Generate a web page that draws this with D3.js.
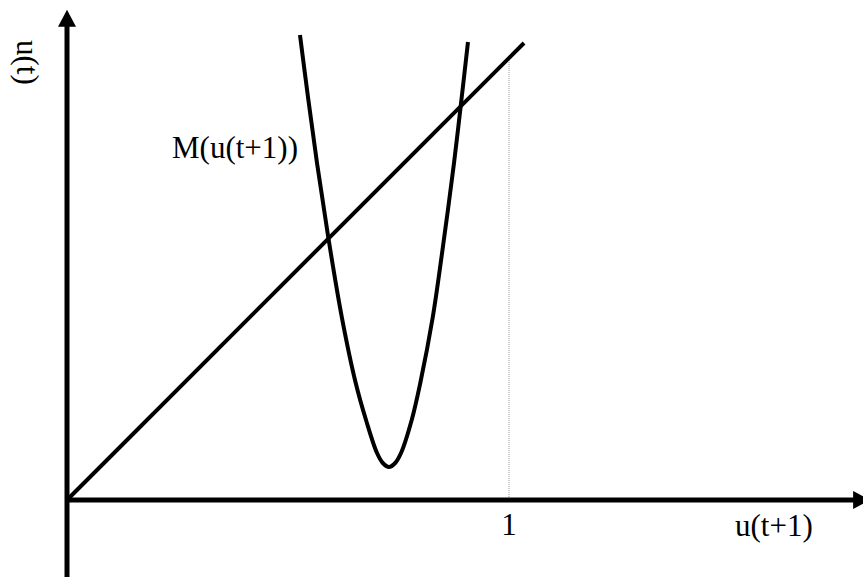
<!DOCTYPE html>
<html>
<head>
<meta charset="utf-8">
<script src="https://cdn.jsdelivr.net/npm/d3@7"></script>
<style>
  html, body { margin: 0; padding: 0; background: #fff; }
  svg { display: block; }
  text { font-family: "Liberation Serif", "Times New Roman", serif; fill: #000; }
</style>
</head>
<body>
<svg id="chart" width="863" height="577"></svg>
<script>
// Map curve M(u(t+1)): sampled points, u(t+1) and u(t) values
const curveU1 = [0.5271, 0.5452, 0.5656, 0.5910, 0.6217, 0.6532, 0.6765, 0.7014, 0.7145, 0.7285,
                 0.7425, 0.7557, 0.7799, 0.7993, 0.8276, 0.8495, 0.8756, 0.8905, 0.9072];
const curveU0 = [1.0520, 0.9118, 0.7624, 0.5950, 0.4140, 0.2647, 0.1810, 0.1063, 0.0837, 0.0747,
                 0.0837, 0.1063, 0.1810, 0.2647, 0.4140, 0.5656, 0.7624, 0.8891, 1.0362];

// Identity line u(t) = u(t+1)
const diagU1 = [0, 1.034];
const diagU0 = [0, 1.034];

// Axis extents (data units)
const xAxisRange = [0, 1.817];
const yAxisRange = [-0.174, 1.109];

// Tick at u(t+1) = 1
const tickValues = [1];
const tickLabels = ["1"];

const xLabel = "u(t+1)";
const yLabel = "u(t)";
const curveLabel = "M(u(t+1))";

const svg = d3.select("#chart");

const x = d3.scaleLinear().domain([0, 1]).range([67, 509]);
const y = d3.scaleLinear().domain([0, 1]).range([500, 58]);

const arrowLen = 17, arrowHalf = 9;
const fontSize = 31;

// Vertical reference line at u(t+1) = 1
svg.selectAll("line.ref").data(tickValues).join("line")
  .attr("class", "ref")
  .attr("x1", d => x(d)).attr("x2", d => x(d))
  .attr("y1", d => y(d)).attr("y2", y(0))
  .attr("stroke", "#9a9a9a").attr("stroke-width", 1)
  .attr("stroke-dasharray", "1,1");

// Axes
const xTip = x(xAxisRange[1]);
svg.append("line")
  .attr("x1", x(0)).attr("x2", xTip - arrowLen + 1)
  .attr("y1", y(0)).attr("y2", y(0))
  .attr("stroke", "#000").attr("stroke-width", 5);
svg.append("path")
  .attr("d", `M${xTip},${y(0)} L${xTip - arrowLen},${y(0) - arrowHalf} L${xTip - arrowLen},${y(0) + arrowHalf} Z`)
  .attr("fill", "#000");

const yTip = y(yAxisRange[1]);
svg.append("line")
  .attr("x1", x(0)).attr("x2", x(0))
  .attr("y1", y(yAxisRange[0])).attr("y2", yTip + arrowLen - 1)
  .attr("stroke", "#000").attr("stroke-width", 5);
svg.append("path")
  .attr("d", `M${x(0)},${yTip} L${x(0) - arrowHalf},${yTip + arrowLen} L${x(0) + arrowHalf},${yTip + arrowLen} Z`)
  .attr("fill", "#000");

// Identity line
svg.append("line")
  .attr("x1", x(diagU1[0])).attr("y1", y(diagU0[0]))
  .attr("x2", x(diagU1[1])).attr("y2", y(diagU0[1]))
  .attr("stroke", "#000").attr("stroke-width", 4);

// Map curve
const pts = curveU1.map((u, i) => [u, curveU0[i]]);
const line = d3.line().x(d => x(d[0])).y(d => y(d[1])).curve(d3.curveCatmullRom.alpha(0.5));
svg.append("path")
  .attr("d", line(pts))
  .attr("fill", "none").attr("stroke", "#000").attr("stroke-width", 4)
  .attr("stroke-linejoin", "round");

// Labels
svg.selectAll("text.tick").data(tickValues).join("text")
  .attr("class", "tick")
  .attr("x", d => x(d)).attr("y", 535)
  .attr("text-anchor", "middle")
  .attr("font-size", fontSize)
  .text((d, i) => tickLabels[i]);

svg.append("text")
  .attr("x", 735).attr("y", 536)
  .attr("font-size", fontSize)
  .text(xLabel);

svg.append("text")
  .attr("transform", "translate(17,40) rotate(90)")
  .attr("font-size", fontSize)
  .text(yLabel);

svg.append("text")
  .attr("x", 172).attr("y", 158)
  .attr("font-size", fontSize)
  .text(curveLabel);
</script>
</body>
</html>
